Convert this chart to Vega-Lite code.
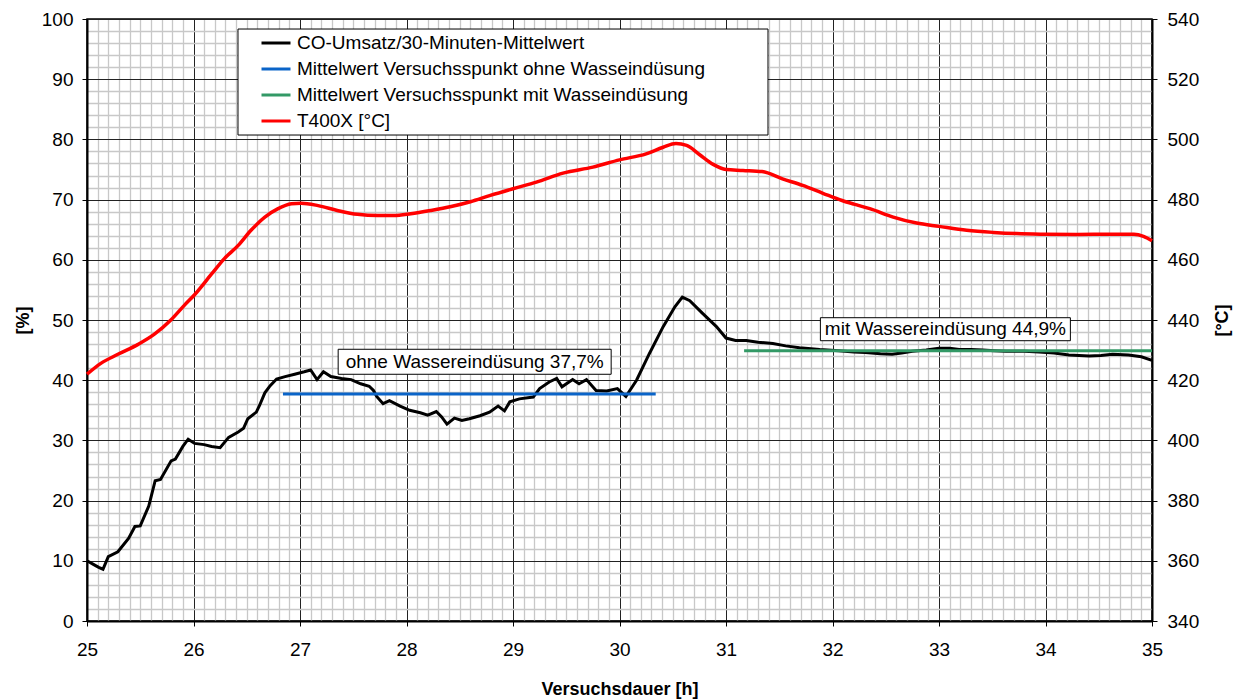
{
  "$schema": "https://vega.github.io/schema/vega-lite/v6.json",
  "width": 1065,
  "height": 602,
  "autosize": {"type": "none"},
  "padding": {"left": 87, "top": 19, "right": 85, "bottom": 78},
  "background": "white",
  "datasets": {
    "co": [
      {"t": 25.0, "v": 10.0}, {"t": 25.06, "v": 9.4}, {"t": 25.11, "v": 8.9}, {"t": 25.15, "v": 8.6},
      {"t": 25.2, "v": 10.7}, {"t": 25.29, "v": 11.5}, {"t": 25.39, "v": 13.7}, {"t": 25.45, "v": 15.7},
      {"t": 25.5, "v": 15.8}, {"t": 25.58, "v": 19.1}, {"t": 25.64, "v": 23.3}, {"t": 25.69, "v": 23.5},
      {"t": 25.79, "v": 26.6}, {"t": 25.83, "v": 26.9}, {"t": 25.9, "v": 29.0}, {"t": 25.95, "v": 30.2},
      {"t": 26.01, "v": 29.5}, {"t": 26.1, "v": 29.3}, {"t": 26.17, "v": 29.0}, {"t": 26.25, "v": 28.8},
      {"t": 26.33, "v": 30.5}, {"t": 26.42, "v": 31.4}, {"t": 26.47, "v": 32.0}, {"t": 26.51, "v": 33.6},
      {"t": 26.59, "v": 34.7}, {"t": 26.62, "v": 35.8}, {"t": 26.67, "v": 37.9}, {"t": 26.72, "v": 39.1},
      {"t": 26.78, "v": 40.2}, {"t": 26.86, "v": 40.6}, {"t": 26.95, "v": 41.0}, {"t": 27.04, "v": 41.4},
      {"t": 27.1, "v": 41.7}, {"t": 27.16, "v": 40.1}, {"t": 27.22, "v": 41.4}, {"t": 27.29, "v": 40.6},
      {"t": 27.39, "v": 40.3}, {"t": 27.48, "v": 40.1}, {"t": 27.57, "v": 39.4}, {"t": 27.65, "v": 39.0},
      {"t": 27.69, "v": 38.3}, {"t": 27.72, "v": 37.3}, {"t": 27.78, "v": 36.1}, {"t": 27.84, "v": 36.6},
      {"t": 27.94, "v": 35.7}, {"t": 28.03, "v": 35.0}, {"t": 28.13, "v": 34.6}, {"t": 28.2, "v": 34.2},
      {"t": 28.28, "v": 34.8}, {"t": 28.33, "v": 33.9}, {"t": 28.38, "v": 32.7}, {"t": 28.45, "v": 33.7},
      {"t": 28.52, "v": 33.3}, {"t": 28.59, "v": 33.6}, {"t": 28.69, "v": 34.1}, {"t": 28.78, "v": 34.7},
      {"t": 28.86, "v": 35.7}, {"t": 28.92, "v": 34.9}, {"t": 28.97, "v": 36.4}, {"t": 29.06, "v": 36.9},
      {"t": 29.19, "v": 37.2}, {"t": 29.25, "v": 38.6}, {"t": 29.34, "v": 39.7}, {"t": 29.41, "v": 40.3},
      {"t": 29.46, "v": 38.9}, {"t": 29.56, "v": 40.1}, {"t": 29.62, "v": 39.4}, {"t": 29.69, "v": 40.1},
      {"t": 29.78, "v": 38.3}, {"t": 29.88, "v": 38.2}, {"t": 29.98, "v": 38.6}, {"t": 30.06, "v": 37.3},
      {"t": 30.16, "v": 40.0}, {"t": 30.28, "v": 44.4}, {"t": 30.41, "v": 48.9}, {"t": 30.52, "v": 52.2},
      {"t": 30.59, "v": 53.8}, {"t": 30.66, "v": 53.2}, {"t": 30.78, "v": 51.1}, {"t": 30.91, "v": 48.9},
      {"t": 31.0, "v": 47.0}, {"t": 31.09, "v": 46.6}, {"t": 31.19, "v": 46.6}, {"t": 31.3, "v": 46.3},
      {"t": 31.44, "v": 46.1}, {"t": 31.56, "v": 45.7}, {"t": 31.69, "v": 45.4}, {"t": 31.88, "v": 45.1},
      {"t": 32.06, "v": 44.9}, {"t": 32.2, "v": 44.7}, {"t": 32.31, "v": 44.6}, {"t": 32.45, "v": 44.4},
      {"t": 32.56, "v": 44.3}, {"t": 32.65, "v": 44.5}, {"t": 32.75, "v": 44.8}, {"t": 32.88, "v": 45.0},
      {"t": 33.0, "v": 45.3}, {"t": 33.1, "v": 45.3}, {"t": 33.19, "v": 45.1}, {"t": 33.3, "v": 45.1},
      {"t": 33.41, "v": 45.0}, {"t": 33.52, "v": 44.9}, {"t": 33.63, "v": 44.8}, {"t": 33.8, "v": 44.8},
      {"t": 33.94, "v": 44.7}, {"t": 34.08, "v": 44.5}, {"t": 34.22, "v": 44.2}, {"t": 34.41, "v": 44.0},
      {"t": 34.52, "v": 44.1}, {"t": 34.63, "v": 44.3}, {"t": 34.78, "v": 44.2}, {"t": 34.9, "v": 43.9},
      {"t": 35.0, "v": 43.3}
    ],
    "temp": [
      {"t": 25.0, "T": 422.0}, {"t": 25.13, "T": 425.6}, {"t": 25.29, "T": 428.6}, {"t": 25.48, "T": 431.9},
      {"t": 25.63, "T": 435.2}, {"t": 25.79, "T": 440.1}, {"t": 25.92, "T": 445.1}, {"t": 26.01, "T": 448.4},
      {"t": 26.17, "T": 455.3}, {"t": 26.29, "T": 460.4}, {"t": 26.42, "T": 464.8}, {"t": 26.54, "T": 469.8},
      {"t": 26.67, "T": 474.2}, {"t": 26.79, "T": 476.9}, {"t": 26.92, "T": 478.6}, {"t": 27.01, "T": 478.8},
      {"t": 27.17, "T": 478.0}, {"t": 27.35, "T": 476.4}, {"t": 27.54, "T": 475.1}, {"t": 27.73, "T": 474.7},
      {"t": 27.88, "T": 474.7}, {"t": 28.04, "T": 475.3}, {"t": 28.23, "T": 476.4}, {"t": 28.42, "T": 477.7},
      {"t": 28.6, "T": 479.3}, {"t": 28.78, "T": 481.3}, {"t": 29.0, "T": 483.6}, {"t": 29.22, "T": 485.8},
      {"t": 29.47, "T": 488.8}, {"t": 29.75, "T": 490.8}, {"t": 30.0, "T": 493.2}, {"t": 30.25, "T": 495.2},
      {"t": 30.41, "T": 497.4}, {"t": 30.53, "T": 498.6}, {"t": 30.63, "T": 498.0}, {"t": 30.75, "T": 495.0},
      {"t": 30.88, "T": 491.7}, {"t": 31.0, "T": 490.0}, {"t": 31.16, "T": 489.7}, {"t": 31.34, "T": 489.3},
      {"t": 31.53, "T": 486.9}, {"t": 31.72, "T": 484.7}, {"t": 31.91, "T": 482.1}, {"t": 32.09, "T": 479.7},
      {"t": 32.2, "T": 478.5}, {"t": 32.35, "T": 477.0}, {"t": 32.57, "T": 474.2}, {"t": 32.79, "T": 472.2},
      {"t": 33.0, "T": 471.1}, {"t": 33.26, "T": 469.8}, {"t": 33.51, "T": 469.1}, {"t": 33.73, "T": 468.7},
      {"t": 34.0, "T": 468.5}, {"t": 34.3, "T": 468.4}, {"t": 34.61, "T": 468.5}, {"t": 34.83, "T": 468.5},
      {"t": 34.92, "T": 467.8}, {"t": 35.0, "T": 466.3}
    ],
    "means": [
      {"series": "Mittelwert Versuchsspunkt ohne Wasseindüsung", "t": 26.84, "v": 37.7},
      {"series": "Mittelwert Versuchsspunkt ohne Wasseindüsung", "t": 30.34, "v": 37.7},
      {"series": "Mittelwert Versuchsspunkt mit Wasseindüsung", "t": 31.17, "v": 44.9},
      {"series": "Mittelwert Versuchsspunkt mit Wasseindüsung", "t": 35.0, "v": 44.9}
    ]
  },
  "resolve": {"scale": {"y": "independent"}},
  "encoding": {
    "x": {
      "field": "t", "type": "quantitative",
      "scale": {"domain": [25, 35], "nice": false, "zero": false},
      "axis": {
        "title": "Versuchsdauer [h]",
        "values": [25, 25.1, 25.2, 25.3, 25.4, 25.5, 25.6, 25.7, 25.8, 25.9, 26, 26.1, 26.2, 26.3, 26.4, 26.5, 26.6, 26.7, 26.8, 26.9, 27, 27.1, 27.2, 27.3, 27.4, 27.5, 27.6, 27.7, 27.8, 27.9, 28, 28.1, 28.2, 28.3, 28.4, 28.5, 28.6, 28.7, 28.8, 28.9, 29, 29.1, 29.2, 29.3, 29.4, 29.5, 29.6, 29.7, 29.8, 29.9, 30, 30.1, 30.2, 30.3, 30.4, 30.5, 30.6, 30.7, 30.8, 30.9, 31, 31.1, 31.2, 31.3, 31.4, 31.5, 31.6, 31.7, 31.8, 31.9, 32, 32.1, 32.2, 32.3, 32.4, 32.5, 32.6, 32.7, 32.8, 32.9, 33, 33.1, 33.2, 33.3, 33.4, 33.5, 33.6, 33.7, 33.8, 33.9, 34, 34.1, 34.2, 34.3, 34.4, 34.5, 34.6, 34.7, 34.8, 34.9, 35],
        "labelExpr": "abs(datum.value - round(datum.value)) < 0.001 ? format(datum.value, 'd') : ''",
        "labelOverlap": false,
        "labelFlush": false,
        "grid": true,
        "gridColor": {"condition": {"test": "abs(datum.value - round(datum.value)) < 0.001", "value": "#222222"}, "value": "#c8c8c8"},
        "gridWidth": {"condition": {"test": "abs(datum.value - round(datum.value)) < 0.001", "value": 1}, "value": 1.3},
        "tickOpacity": {"condition": {"test": "abs(datum.value - round(datum.value)) < 0.001", "value": 1}, "value": 0},
        "tickSize": 5,
        "labelPadding": 14,
        "titlePadding": 21
      }
    }
  },
  "layer": [
    {
      "encoding": {
        "y": {
          "field": "v", "type": "quantitative",
          "scale": {"domain": [0, 100], "nice": false},
          "axis": {
            "title": "[%]",
            "values": [0, 2, 4, 6, 8, 10, 12, 14, 16, 18, 20, 22, 24, 26, 28, 30, 32, 34, 36, 38, 40, 42, 44, 46, 48, 50, 52, 54, 56, 58, 60, 62, 64, 66, 68, 70, 72, 74, 76, 78, 80, 82, 84, 86, 88, 90, 92, 94, 96, 98, 100],
            "labelExpr": "datum.value % 10 === 0 ? datum.label : ''",
            "labelOverlap": false,
            "labelFlush": false,
            "grid": true,
            "gridColor": {"condition": {"test": "datum.value % 10 === 0", "value": "#222222"}, "value": "#c8c8c8"},
            "gridWidth": {"condition": {"test": "datum.value % 10 === 0", "value": 1}, "value": 1.3},
            "tickOpacity": {"condition": {"test": "datum.value % 10 === 0", "value": 1}, "value": 0},
            "tickSize": 5,
            "labelPadding": 9,
            "titlePadding": 9
          }
        },
        "color": {
          "field": "series",
          "type": "nominal",
          "scale": {
            "domain": ["CO-Umsatz/30-Minuten-Mittelwert", "Mittelwert Versuchsspunkt ohne Wasseindüsung", "Mittelwert Versuchsspunkt mit Wasseindüsung", "T400X [°C]"],
            "range": ["#000000", "#0a64c8", "#339966", "#ff0000"]
          },
          "legend": {
            "title": null, "orient": "none", "legendX": 151, "legendY": 8,
            "symbolType": "stroke", "symbolSize": 841, "symbolStrokeWidth": 3,
            "rowPadding": 0, "padding": 0, "labelOffset": 5, "symbolOffset": 22,
            "labelFontSize": 19, "labelFont": "Liberation Sans", "labelColor": "#000000", "labelLimit": 600
          }
        }
      },
      "layer": [
        {
          "data": {"name": "co"},
          "mark": {"type": "line", "strokeWidth": 3, "interpolate": "linear"},
          "encoding": {"color": {"datum": "CO-Umsatz/30-Minuten-Mittelwert", "type": "nominal"}}
        },
        {
          "data": {"name": "means"},
          "mark": {"type": "line", "strokeWidth": 3}
        },
        {
          "data": {"values": [{"t": 28.906, "v": 89.53}]},
          "mark": {"type": "rect", "width": 530, "height": 106, "fill": "white", "stroke": "#000000", "strokeWidth": 1},
          "encoding": {"color": null}
        },
        {
          "data": {"values": [{"t": 28.64, "v": 43.06, "text": "ohne Wassereindüsung 37,7%"}]},
          "encoding": {"color": null},
          "layer": [
            {"mark": {"type": "rect", "width": 273, "height": 25, "fill": "white", "stroke": "#000000", "strokeWidth": 1}},
            {"mark": {"type": "text", "font": "Liberation Sans", "fontSize": 19, "color": "#000000", "align": "center", "baseline": "middle"}, "encoding": {"text": {"field": "text"}}}
          ]
        },
        {
          "data": {"values": [{"t": 33.06, "v": 48.47, "text": "mit Wassereindüsung 44,9%"}]},
          "encoding": {"color": null},
          "layer": [
            {"mark": {"type": "rect", "width": 250, "height": 23, "fill": "white", "stroke": "#000000", "strokeWidth": 1}},
            {"mark": {"type": "text", "font": "Liberation Sans", "fontSize": 19, "color": "#000000", "align": "center", "baseline": "middle"}, "encoding": {"text": {"field": "text"}}}
          ]
        }
      ]
    },
    {
      "data": {"name": "temp"},
      "mark": {"type": "line", "strokeWidth": 3.5, "interpolate": "monotone", "color": "#ff0000"},
      "encoding": {
        "y": {
          "field": "T", "type": "quantitative",
          "scale": {"domain": [340, 540], "nice": false, "zero": false},
          "axis": {
            "orient": "right", "title": "[°C]",
            "values": [340, 360, 380, 400, 420, 440, 460, 480, 500, 520, 540],
            "grid": false, "tickSize": 5, "labelPadding": 10, "titlePadding": 15,
            "titleAngle": 270, "titleBaseline": "top",
            "labelFlush": false
          }
        }
      }
    }
  ],
  "config": {
    "font": "Liberation Sans",
    "view": {"stroke": "#000000", "strokeWidth": 1.5},
    "axis": {
      "labelFont": "Liberation Sans", "labelFontSize": 19, "labelColor": "#000000",
      "titleFont": "Liberation Sans", "titleFontSize": 18, "titleFontWeight": "bold", "titleColor": "#000000",
      "domainColor": "#000000", "domainWidth": 2, "tickColor": "#000000", "tickWidth": 1
    }
  }
}
